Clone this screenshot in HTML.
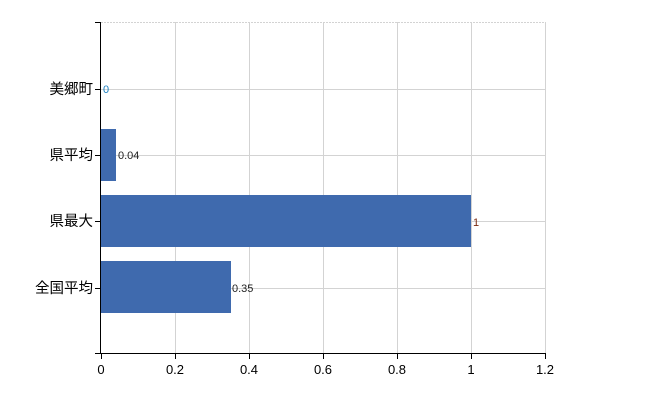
<!DOCTYPE html>
<html><head><meta charset="utf-8"><style>body{margin:0;background:#fff}svg{display:block}</style></head>
<body>
<svg width="650" height="400" xmlns="http://www.w3.org/2000/svg" font-family="'Liberation Sans','Noto Sans CJK JP',sans-serif">
<rect width="650" height="400" fill="#fff"/>
<g stroke="#d3d3d3" stroke-width="1">
<line x1="101" y1="22.5" x2="545" y2="22.5" stroke-dasharray="2,1"/>
<line x1="101" y1="89.5" x2="545" y2="89.5"/>
<line x1="101" y1="155.5" x2="545" y2="155.5"/>
<line x1="101" y1="221.5" x2="545" y2="221.5"/>
<line x1="101" y1="288.5" x2="545" y2="288.5"/>
<line x1="175.5" y1="22" x2="175.5" y2="353"/>
<line x1="249.5" y1="22" x2="249.5" y2="353"/>
<line x1="323.5" y1="22" x2="323.5" y2="353"/>
<line x1="397.5" y1="22" x2="397.5" y2="353"/>
<line x1="471.5" y1="22" x2="471.5" y2="353"/>
<line x1="545.5" y1="22" x2="545.5" y2="353"/>
</g>
<g fill="#3f6aae">
<rect x="101" y="129" width="15" height="52"/>
<rect x="101" y="195" width="370" height="52"/>
<rect x="101" y="261" width="130" height="52"/>
</g>
<g stroke="#000" stroke-width="1">
<line x1="100.5" y1="22" x2="100.5" y2="353"/>
<line x1="100" y1="353.5" x2="546" y2="353.5"/>
<line x1="95" y1="22.5" x2="101" y2="22.5"/>
<line x1="95" y1="89.5" x2="101" y2="89.5"/>
<line x1="95" y1="155.5" x2="101" y2="155.5"/>
<line x1="95" y1="221.5" x2="101" y2="221.5"/>
<line x1="95" y1="288.5" x2="101" y2="288.5"/>
<line x1="95" y1="353.5" x2="101" y2="353.5"/>
<line x1="101.5" y1="353" x2="101.5" y2="359"/>
<line x1="175.5" y1="353" x2="175.5" y2="359"/>
<line x1="249.5" y1="353" x2="249.5" y2="359"/>
<line x1="323.5" y1="353" x2="323.5" y2="359"/>
<line x1="397.5" y1="353" x2="397.5" y2="359"/>
<line x1="471.5" y1="353" x2="471.5" y2="359"/>
<line x1="545.5" y1="353" x2="545.5" y2="359"/>
</g>
<g font-size="14.5" text-anchor="end" fill="#000">
<text x="93" y="94">美郷町</text>
<text x="93" y="160">県平均</text>
<text x="93" y="226">県最大</text>
<text x="93" y="293">全国平均</text>
</g>
<g font-size="13" text-anchor="middle" fill="#000">
<text x="101" y="374">0</text>
<text x="175" y="374">0.2</text>
<text x="249" y="374">0.4</text>
<text x="323" y="374">0.6</text>
<text x="397" y="374">0.8</text>
<text x="471" y="374">1</text>
<text x="545" y="374">1.2</text>
</g>
<g font-size="11">
<text x="103" y="93" fill="#1a7fc0">0</text>
<text x="118" y="159" fill="#222">0.04</text>
<text x="473" y="226" fill="#7a2a10">1</text>
<text x="232" y="292" fill="#222">0.35</text>
</g>
</svg>
</body></html>
